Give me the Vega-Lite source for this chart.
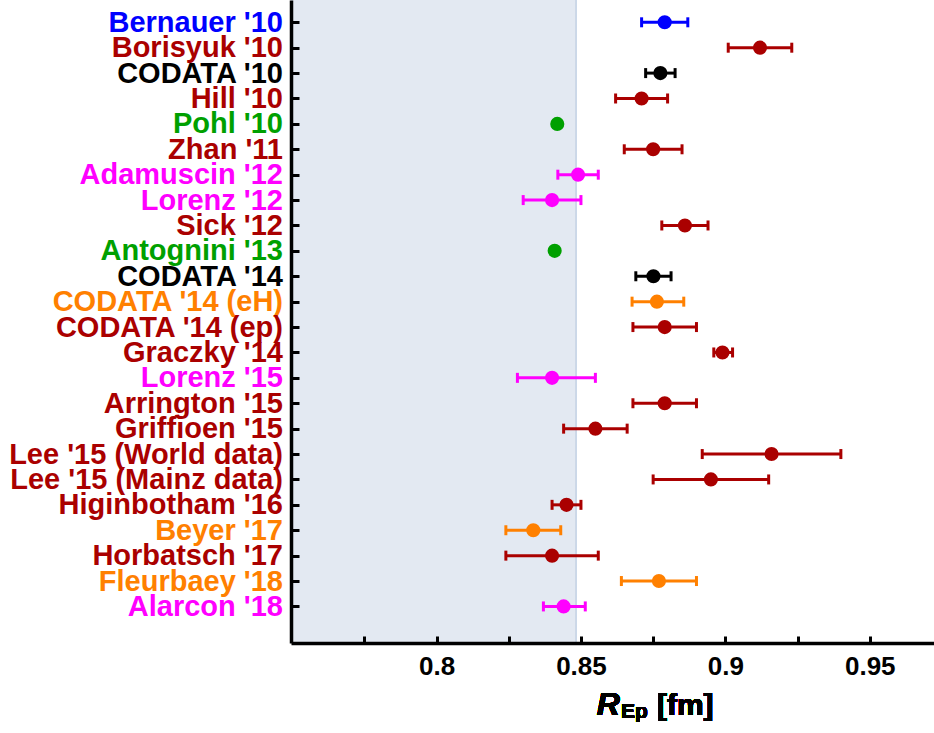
{
  "$schema": "https://vega.github.io/schema/vega-lite/v6.json",
  "autosize": {"type": "none"},
  "padding": {"left": 291, "top": 0, "right": 0, "bottom": 90},
  "width": 643,
  "height": 643,
  "background": "white",
  "config": {"view": {"stroke": null}},
  "data": {"values": [
    {"row": 1, "name": "Bernauer '10", "group": "Mainz A1", "r": 0.879, "lo": 0.871, "hi": 0.887},
    {"row": 2, "name": "Borisyuk '10", "group": "ep scattering", "r": 0.912, "lo": 0.901, "hi": 0.923},
    {"row": 3, "name": "CODATA '10", "group": "CODATA", "r": 0.8775, "lo": 0.8724, "hi": 0.8826},
    {"row": 4, "name": "Hill '10", "group": "ep scattering", "r": 0.871, "lo": 0.862, "hi": 0.880},
    {"row": 5, "name": "Pohl '10", "group": "muonic H", "r": 0.8418, "lo": 0.8412, "hi": 0.8425},
    {"row": 6, "name": "Zhan '11", "group": "ep scattering", "r": 0.875, "lo": 0.865, "hi": 0.885},
    {"row": 7, "name": "Adamuscin '12", "group": "dispersive", "r": 0.849, "lo": 0.842, "hi": 0.856},
    {"row": 8, "name": "Lorenz '12", "group": "dispersive", "r": 0.840, "lo": 0.830, "hi": 0.850},
    {"row": 9, "name": "Sick '12", "group": "ep scattering", "r": 0.886, "lo": 0.878, "hi": 0.894},
    {"row": 10, "name": "Antognini '13", "group": "muonic H", "r": 0.8409, "lo": 0.8405, "hi": 0.8413},
    {"row": 11, "name": "CODATA '14", "group": "CODATA", "r": 0.8751, "lo": 0.8690, "hi": 0.8812},
    {"row": 12, "name": "CODATA '14 (eH)", "group": "H spectroscopy", "r": 0.8763, "lo": 0.8677, "hi": 0.8856},
    {"row": 13, "name": "CODATA '14 (ep)", "group": "ep scattering", "r": 0.879, "lo": 0.868, "hi": 0.890},
    {"row": 14, "name": "Graczky '14", "group": "ep scattering", "r": 0.899, "lo": 0.896, "hi": 0.9025},
    {"row": 15, "name": "Lorenz '15", "group": "dispersive", "r": 0.840, "lo": 0.828, "hi": 0.855},
    {"row": 16, "name": "Arrington '15", "group": "ep scattering", "r": 0.879, "lo": 0.868, "hi": 0.890},
    {"row": 17, "name": "Griffioen '15", "group": "ep scattering", "r": 0.855, "lo": 0.844, "hi": 0.866},
    {"row": 18, "name": "Lee '15 (World data)", "group": "ep scattering", "r": 0.916, "lo": 0.892, "hi": 0.940},
    {"row": 19, "name": "Lee '15 (Mainz data)", "group": "ep scattering", "r": 0.895, "lo": 0.875, "hi": 0.915},
    {"row": 20, "name": "Higinbotham '16", "group": "ep scattering", "r": 0.845, "lo": 0.840, "hi": 0.850},
    {"row": 21, "name": "Beyer '17", "group": "H spectroscopy", "r": 0.8335, "lo": 0.824, "hi": 0.843},
    {"row": 22, "name": "Horbatsch '17", "group": "ep scattering", "r": 0.840, "lo": 0.824, "hi": 0.856},
    {"row": 23, "name": "Fleurbaey '18", "group": "H spectroscopy", "r": 0.877, "lo": 0.864, "hi": 0.890},
    {"row": 24, "name": "Alarcon '18", "group": "dispersive", "r": 0.844, "lo": 0.837, "hi": 0.8515}
  ]},
  "encoding": {
    "y": {
      "field": "row", "type": "quantitative",
      "scale": {"domain": [0.122, 25.44], "reverse": true, "nice": false, "zero": false},
      "axis": {
        "values": [1,2,3,4,5,6,7,8,9,10,11,12,13,14,15,16,17,18,19,20,21,22,23,24],
        "labelExpr": "[\"Bernauer '10\", \"Borisyuk '10\", \"CODATA '10\", \"Hill '10\", \"Pohl '10\", \"Zhan '11\", \"Adamuscin '12\", \"Lorenz '12\", \"Sick '12\", \"Antognini '13\", \"CODATA '14\", \"CODATA '14 (eH)\", \"CODATA '14 (ep)\", \"Graczky '14\", \"Lorenz '15\", \"Arrington '15\", \"Griffioen '15\", \"Lee '15 (World data)\", \"Lee '15 (Mainz data)\", \"Higinbotham '16\", \"Beyer '17\", \"Horbatsch '17\", \"Fleurbaey '18\", \"Alarcon '18\"][datum.value - 1]",
        "labelColor": {"expr": "['#0000ff','#aa0000','#000000','#aa0000','#00a000','#aa0000','#ff00ff','#ff00ff','#aa0000','#00a000','#000000','#ff8000','#aa0000','#aa0000','#ff00ff','#aa0000','#aa0000','#aa0000','#aa0000','#aa0000','#ff8000','#aa0000','#ff8000','#ff00ff'][datum.value - 1]"},
        "labelFont": "Liberation Sans", "labelFontWeight": "bold", "labelFontSize": 29,
        "labelOverlap": false, "labelFlush": false, "labelBound": false, "labelLimit": 0,
        "labelPadding": 16.5,
        "ticks": true, "tickSize": -8, "tickWidth": 3, "tickColor": "black",
        "domainColor": "black", "domainWidth": 3.5,
        "grid": false, "title": null, "zindex": 2
      }
    }
  },
  "layer": [
    {
      "mark": {"type": "rect", "color": "#e3e9f2"},
      "encoding": {"x": {"datum": 0.7496}, "x2": {"datum": 0.8483}, "y": null}
    },
    {
      "mark": {"type": "rule", "color": "#ccd8e8", "strokeWidth": 1.5},
      "encoding": {"x": {"datum": 0.8483}, "y": null}
    },
    {
      "mark": {"type": "rule", "strokeWidth": 3},
      "encoding": {
        "x": {"field": "lo", "type": "quantitative",
          "scale": {"domain": [0.7496, 0.97225], "nice": false, "zero": false},
          "axis": {
            "values": [0.775, 0.8, 0.825, 0.85, 0.875, 0.9, 0.925, 0.95],
            "labelExpr": "round(datum.value * 1000) % 50 == 0 ? toString(round(datum.value * 100) / 100) : ''",
            "labelFont": "Liberation Sans", "labelFontWeight": "bold", "labelFontSize": 26, "labelColor": "black",
            "labelOverlap": false, "labelFlush": false, "labelPadding": 17,
            "ticks": true, "tickSize": -7, "tickWidth": 3, "tickColor": "black",
            "domainColor": "black", "domainWidth": 3.5,
            "grid": false, "title": null, "zindex": 2
          }},
        "x2": {"field": "hi"},
        "color": {"field": "group", "type": "nominal",
          "scale": {"domain": ["Mainz A1", "ep scattering", "CODATA", "muonic H", "dispersive", "H spectroscopy"],
                    "range": ["#0000ff", "#aa0000", "#000000", "#00a000", "#ff00ff", "#ff8000"]},
          "legend": null}
      }
    },
    {
      "mark": {"type": "tick", "orient": "vertical", "size": 10, "thickness": 3, "opacity": 1},
      "encoding": {"x": {"field": "lo", "type": "quantitative"}, "color": {"field": "group", "type": "nominal"}}
    },
    {
      "mark": {"type": "tick", "orient": "vertical", "size": 10, "thickness": 3, "opacity": 1},
      "encoding": {"x": {"field": "hi", "type": "quantitative"}, "color": {"field": "group", "type": "nominal"}}
    },
    {
      "mark": {"type": "circle", "size": 200, "opacity": 1},
      "encoding": {"x": {"field": "r", "type": "quantitative"}, "color": {"field": "group", "type": "nominal"}}
    },
    {
      "mark": {"type": "text", "text": "R", "font": "Liberation Sans", "fontWeight": "bold", "fontStyle": "italic", "fontSize": 32, "align": "left", "baseline": "alphabetic", "color": "black"},
      "encoding": {"x": {"datum": 0.8555}, "y": {"datum": 28.26}}
    },
    {
      "mark": {"type": "text", "text": "Ep", "font": "Liberation Sans", "fontWeight": "bold", "fontSize": 21, "align": "left", "baseline": "alphabetic", "color": "black"},
      "encoding": {"x": {"datum": 0.8639}, "y": {"datum": 28.38}}
    },
    {
      "mark": {"type": "text", "text": "[fm]", "font": "Liberation Sans", "fontWeight": "bold", "fontSize": 30, "align": "left", "baseline": "alphabetic", "color": "black"},
      "encoding": {"x": {"datum": 0.8763}, "y": {"datum": 28.26}}
    }
  ]
}
